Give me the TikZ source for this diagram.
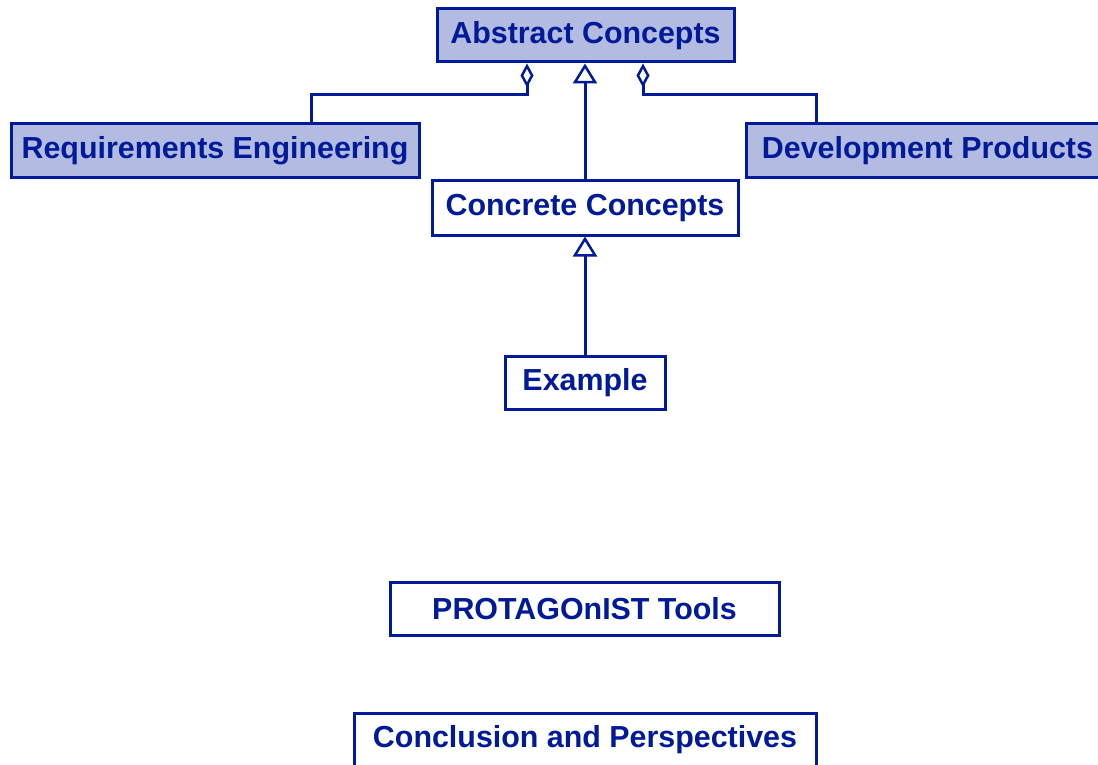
\documentclass[tikz,border=0pt]{standalone}
\usepackage{fontspec}
\setmainfont{Liberation Sans}
\usetikzlibrary{arrows.meta}
\definecolor{umlblue}{RGB}{0,26,153}
\definecolor{umlfill}{RGB}{179,187,224}
\begin{document}
\begin{tikzpicture}[x=1pt, y=-1pt,
    box/.style={draw=umlblue, line width=3pt, text=umlblue, inner sep=0pt,
                font=\fontsize{30.4}{36}\selectfont\bfseries},
    abox/.style={box, fill=umlfill},
    aggr/.style={draw=umlblue, line width=3pt, -{Diamond[open, length=24pt, width=13pt, line width=2.5pt]}},
    gen/.style={draw=umlblue, line width=3pt, -{Triangle[open, length=20pt, width=24pt, line width=2.5pt]}}]
      \useasboundingbox (0,0) rectangle (1098,765);
      \clip (0,0) rectangle (1098,765);

      % Abstract part of the model
      \node[abox, minimum width=297pt, minimum height=53pt] (abstract) at (585.5,35.5) {Abstract Concepts};
      \node[abox, minimum width=408pt, minimum height=54pt] (reqeng) at (215,151) {Requirements Engineering};
      \node[abox, minimum width=363pt, minimum height=54pt] (devprod) at (927.5,151) {Development Products};

      % Concrete part of the model
      \node[box, minimum width=306pt, minimum height=54pt] (concrete) at (585,208) {Concrete Concepts};
      \node[box, minimum width=160pt, minimum height=53pt] (example) at (585,382.5) {Example};

      % Other sections
      \node[box, minimum width=389pt, minimum height=53pt] (tools) at (584.5,608.5) {PROTAGOnIST Tools};
      \node[box, minimum width=462pt, minimum height=53pt] (conclusion) at (585,739.5) {Conclusion and Perspectives};

      % Aggregations
      \draw[aggr] ([xshift=96pt]reqeng.north) |- ++(0,-28) -| ([xshift=-58.5pt]abstract.south);
      \draw[aggr] ([xshift=-111.5pt]devprod.north) |- ++(0,-28) -| ([xshift=57.5pt]abstract.south);

      % Generalisations
      \draw[gen] (concrete.north) -- (concrete.north |- abstract.south);
      \draw[gen] (example.north) -- (example.north |- concrete.south);
\end{tikzpicture}
\end{document}
